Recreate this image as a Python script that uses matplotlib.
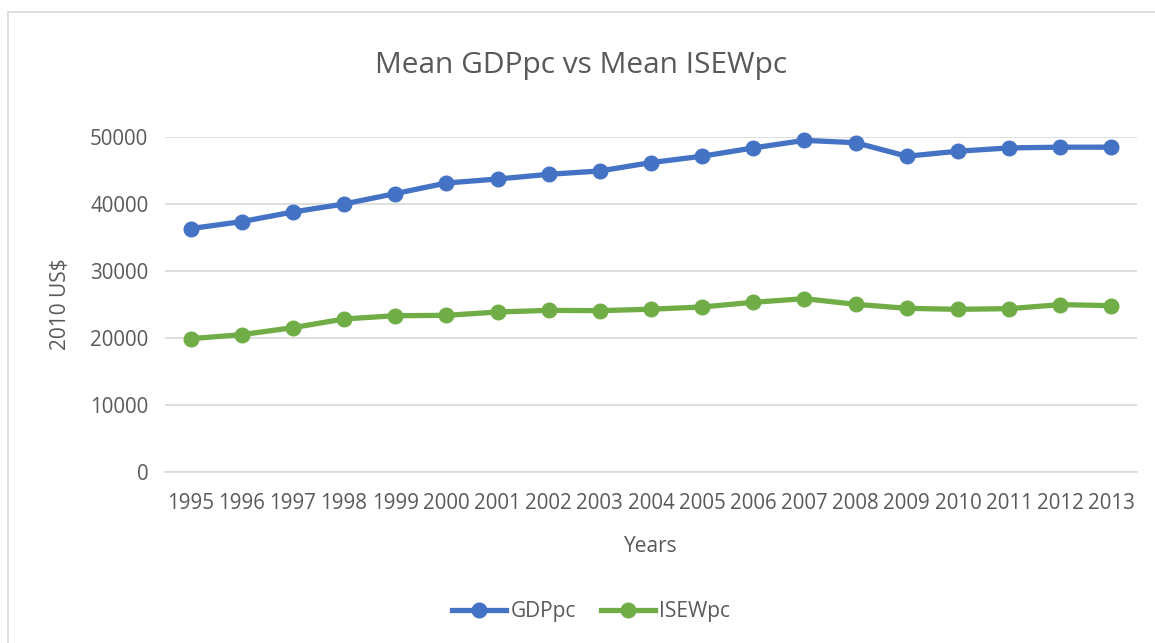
import matplotlib.pyplot as plt
from matplotlib.patches import Rectangle

years = [str(y) for y in range(1995, 2014)]
gdppc = [36330, 37370, 38810, 40000, 41550, 43130, 43730, 44430, 44930, 46180,
         47130, 48370, 49500, 49150, 47130, 47880, 48370, 48480, 48480]
isewpc = [19900, 20500, 21540, 22840, 23330, 23380, 23880, 24130, 24080, 24300,
          24630, 25330, 25870, 25030, 24430, 24280, 24380, 24980, 24830]

TXT = '#595959'
GRID = '#d9d9d9'
plt.rcParams['font.family'] = ['Open Sans', 'DejaVu Sans']

fig = plt.figure(figsize=(11.55, 6.43), dpi=100)
ax = fig.add_axes([165 / 1155, 1 - 472 / 643, (1137 - 165) / 1155, (472 - 137) / 643])

# chart-area border (cropped on right/bottom in the original)
fig.patches.append(Rectangle((8 / 1155, -0.1), 1.2, 1 - 12 / 643 + 0.1,
                             transform=fig.transFigure, fill=False,
                             edgecolor=GRID, lw=1.2))

x = range(len(years))
ax.plot(x, gdppc, color='#4472C4', lw=3.8, marker='o', markersize=10.5,
        label='GDPpc', clip_on=False, zorder=3)
ax.plot(x, isewpc, color='#70AD47', lw=3.8, marker='o', markersize=10.5,
        label='ISEWpc', clip_on=False, zorder=3)

ax.set_xlim(-0.5, len(years) - 0.5)
ax.set_ylim(0, 50000)
ax.set_yticks(range(0, 50001, 10000))
ax.set_xticks(list(x))
ax.set_xticklabels(years)
ax.grid(axis='y', color=GRID, lw=1.2)
ax.set_axisbelow(True)
for s in ['top', 'right', 'left']:
    ax.spines[s].set_visible(False)
ax.spines['bottom'].set_color(GRID)
ax.spines['bottom'].set_linewidth(1.2)
ax.tick_params(length=0, labelsize=14.8, colors=TXT)
ax.tick_params(axis='x', pad=15)
ax.tick_params(axis='y', pad=12)

ax.set_ylabel('2010 US$', fontsize=15, color=TXT, labelpad=14)
ax.set_xlabel('Years', fontsize=15, color=TXT, labelpad=16)
fig.text(581 / 1155, 1 - 66 / 643, 'Mean GDPpc vs Mean ISEWpc', ha='center',
         va='center', fontsize=21.5, color=TXT)

fig.legend(loc='center', bbox_to_anchor=(591 / 1155, 1 - 612 / 643), ncol=2,
           frameon=False, fontsize=15, labelcolor=TXT, handlelength=2.6,
           handletextpad=0.2, columnspacing=1.2)

plt.savefig('out.png', dpi=100, facecolor='white')
plt.close()
